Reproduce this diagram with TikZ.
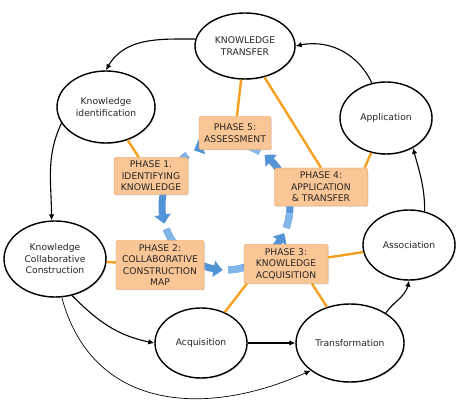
\documentclass[tikz,border=0pt]{standalone}
\usepackage{fontspec}
\setmainfont{DejaVu Sans}
\usepackage{tikz}
\definecolor{phasefill}{RGB}{250,198,150}
\definecolor{phaseline}{RGB}{232,150,80}
\definecolor{linkorange}{RGB}{245,160,32}
\definecolor{cycleblue}{RGB}{82,148,214}
\definecolor{cyclelight}{RGB}{130,182,234}
\usetikzlibrary{
  arrows.meta,
  bending,
  shapes.geometric,
  shadows,
  positioning,
}
\tikzset{
  >=Latex,
  stage/.style={draw,ellipse,line width=1.4pt,fill=white,inner sep=0pt,align=center,
    text=black!85,font=\fontsize{9.2}{11.5}\selectfont,
    drop shadow={shadow xshift=1pt,shadow yshift=-1pt,fill=black!30}},
  phase/.style={draw=phaseline,fill=phasefill,rounded corners=2pt,inner sep=1pt,align=center,
    text=black!85,font=\fontsize{9.2}{11.5}\selectfont,
    drop shadow={shadow xshift=1pt,shadow yshift=-1pt,fill=black!20}},
  link/.style={draw=linkorange,line width=2.4pt},
  flow/.style={->,line width=1.1pt,>={Latex[length=6pt,width=5.5pt]}},
  cyc/.style={draw=cycleblue,line width=7pt,-{Triangle[length=9pt,width=16pt,bend]}},
  cyctail/.style={draw=cyclelight,line width=7pt},
}

\begin{document}
\begin{tikzpicture}[x=1pt,y=1pt]
        \useasboundingbox (0,0) rectangle (474,402);

        % phase cycle
        \coordinate (hub) at (226,196);
        \foreach \a/\b in {58/120, 127/196, 201/267, 272/335, 340/413} {
            \draw[cyc] ([shift={(\a:64)}]hub) arc[start angle=\a,end angle=\b,radius=64];
            \draw[cyctail] ([shift={(\a:64)}]hub) arc[start angle=\a,end angle=\a+14,radius=64];
        }

        \node[stage,minimum width=100,minimum height=66]    (kt)  at (245,356)  {KNOWLEDGE\\TRANSFER};
        \node[stage,minimum width=98,minimum height=72]     (ki)  at (106,295)  {Knowledge\\identification};
        \node[stage,minimum width=92,minimum height=72]     (app) at (386,284)  {Application};
        \node[stage,minimum width=102,minimum height=76]    (kcc) at (55,143)   {Knowledge\\Collaborative\\Construction};
        \node[stage,minimum width=92,minimum height=70]     (asc) at (409,157)  {Association};
        \node[stage,minimum width=92,minimum height=70]     (acq) at (201,59)   {Acquisition};
        \node[stage,minimum width=108,minimum height=78]    (trf) at (350,59)   {Transformation};

        \node[phase,minimum width=72,minimum height=33]     (p5)  at (235,269)  {PHASE 5:\\ASSESSMENT};
        \node[phase,minimum width=74,minimum height=37]     (p1)  at (151,226)  {PHASE 1.\\IDENTIFYING\\KNOWLEDGE};
        \node[phase,minimum width=93,minimum height=38]     (p4)  at (321,215)  {PHASE 4:\\APPLICATION\\\& TRANSFER};
        \node[phase,minimum width=88,minimum height=49]     (p2)  at (160,137)  {PHASE 2:\\COLLABORATIVE\\CONSTRUCTION\\MAP};
        \node[phase,minimum width=84,minimum height=39]     (p3)  at (286,138)  {PHASE 3:\\KNOWLEDGE\\ACQUISITION};

        % phases to stages
        \draw[link] (kt) -- (p5);
        \draw[link] (kt) -- (p4.north);
        \draw[link] (ki) -- (p1);
        \draw[link] (app) -- ([xshift=-3pt]p4.north east);
        \draw[link] (kcc) -- (p2);
        \draw[link] (p3) -- (asc);
        \draw[link] ([xshift=3pt]p3.south west) -- (acq);
        \draw[link] ([xshift=26pt]p3.south) -- (trf);

        % stage cycle
        \draw[flow] (kt.172) to[out=180,in=65] (ki.north);
        \draw[flow] (app.112) to[out=115,in=15] (kt.east);
        \draw[flow] (ki.200) to[out=245,in=90] (kcc.95);
        \draw[flow] (asc.65) to[out=90,in=-75] (app.-48);
        \draw[flow] (trf.40) to[out=55,in=-95] (asc.south);
        \draw[flow] (kcc.-65) to[out=-45,in=170] (acq.west);
        \draw[flow] (acq) -- (trf);
        \draw[flow,line width=0.7pt] (kcc.-80) to[out=-75,in=205,looseness=1.15] (trf.-145);

    \end{tikzpicture}
\end{document}
